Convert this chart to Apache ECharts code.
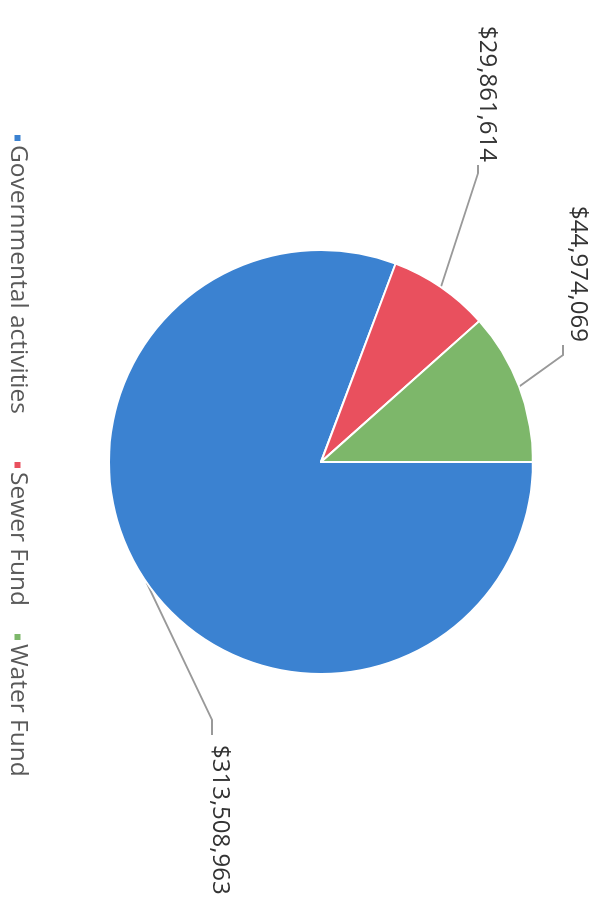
<!DOCTYPE html>
<html>
<head>
<meta charset="utf-8">
<script src="https://cdn.jsdelivr.net/npm/echarts@6/dist/echarts.min.js"></script>
<style>
  html, body { margin: 0; padding: 0; width: 604px; height: 911px; overflow: hidden; background: #fff; }
  #main { position: absolute; left: 0; top: 0; width: 911px; height: 604px;
          transform-origin: 0 0; transform: translateX(604px) rotate(90deg); }
</style>
</head>
<body>
<div id="main"></div>
<script>
// Data (chart is drawn upright, then the whole chart is rotated 90° clockwise as in the reference)
const categories = ['Governmental activities', 'Sewer Fund', 'Water Fund'];
const values = [313508963, 29861614, 44974069];
const colors = ['#3B82D1', '#E9505E', '#7DB76A'];

// Label placement (layout only, in upright chart coordinates)
const labelPlace = [
  { x: 745, y: 384, align: 'left',  endDx: -10, endDy: 8,  bend: -15 },
  { x: 162, y: 117, align: 'right', endDx: 3,   endDy: 9,  bend: 8 },
  { x: 342, y: 26,  align: 'right', endDx: 3,   endDy: 15, bend: 10 }
];
const legendLeft = [133, 460, 632];

const fontFamily = '"Open Sans", "Noto Sans", sans-serif';
const chart = echarts.init(document.getElementById('main'), null, { renderer: 'canvas' });

const legends = categories.map((name, i) => ({
  show: true,
  left: legendLeft[i],
  top: 574,
  padding: 0,
  itemWidth: 8,
  itemHeight: 8,
  itemGap: 0,
  icon: 'rect',
  data: [name],
  textStyle: { fontFamily: fontFamily, fontSize: 24.5, color: '#595959', padding: [0, 0, 0, -2] }
}));

chart.setOption({
  animation: false,
  color: colors,
  legend: legends,
  series: [{
    type: 'pie',
    center: [462, 283],
    radius: 212,
    startAngle: 90,
    clockwise: true,
    avoidLabelOverlap: false,
    itemStyle: { borderColor: '#ffffff', borderWidth: 2 },
    label: {
      show: true,
      position: 'outside',
      fontFamily: fontFamily,
      fontSize: 24,
      color: '#333333',
      formatter: (p) => '$' + p.value.toLocaleString('en-US')
    },
    labelLine: { show: true, length: 30, length2: 15, lineStyle: { color: '#999999', width: 1.8 } },
    labelLayout: function (params) {
      const p = labelPlace[params.dataIndex];
      const out = { x: p.x, y: p.y, align: p.align, verticalAlign: 'middle' };
      if (params.labelLinePoints) {
        const p0 = params.labelLinePoints[0];
        const end = [p.x + p.endDx, p.y + p.endDy];
        const mid = [end[0] + p.bend, end[1]];
        out.labelLinePoints = [p0, mid, end];
      }
      return out;
    },
    data: categories.map((name, i) => ({ name: name, value: values[i] }))
  }]
});
</script>
</body>
</html>
